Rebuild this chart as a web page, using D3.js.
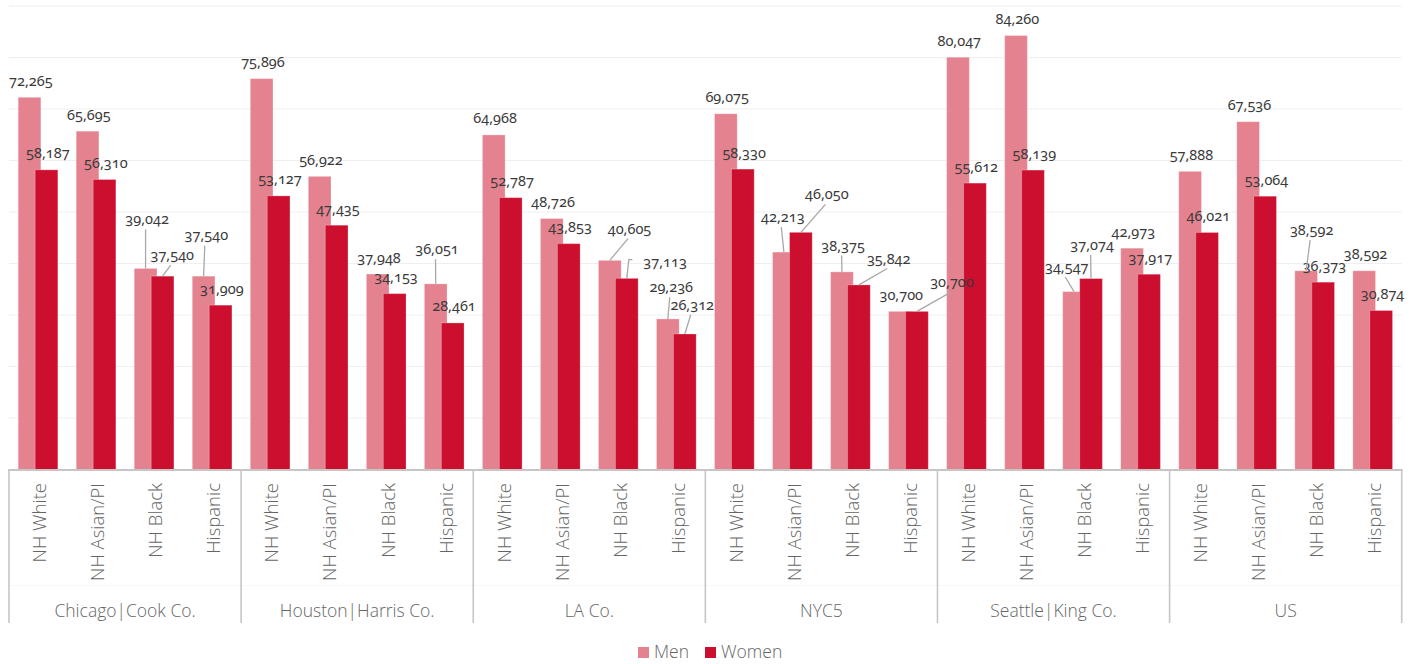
<!DOCTYPE html>
<html>
<head>
<meta charset="utf-8">
<script src="https://cdn.jsdelivr.net/npm/d3@7"></script>
<style>
  body { margin: 0; background: #fff; }
  svg { display: block; }
  .value-label { font-family: "Noto Sans", sans-serif; font-size: 14.5px; fill: #3a3a3a; font-variant-numeric: oldstyle-nums; }
  .cat-label, .group-label, .legend-label { font-family: "Open Sans", sans-serif; font-weight: 300; fill: #666; }
</style>
</head>
<body>
<svg id="chart" width="1419" height="664"></svg>
<script>
const groups = ["Chicago|Cook Co.", "Houston|Harris Co.", "LA Co.", "NYC5", "Seattle|King Co.", "US"];
const categories = ["NH White", "NH Asian/PI", "NH Black", "Hispanic"];
const series = ["Men", "Women"];

const menValues = [
  72265, 65695, 39042, 37540,
  75896, 56922, 37948, 36051,
  64968, 48726, 40605, 29236,
  69075, 42213, 38375, 30700,
  80047, 84260, 34547, 42973,
  57888, 67536, 38592, 38592
];
const womenValues = [
  58187, 56310, 37540, 31909,
  53127, 47435, 34153, 28461,
  52787, 43853, 37113, 26312,
  58330, 46050, 35842, 30700,
  55612, 58139, 37074, 37917,
  46021, 53064, 36373, 30874
];
const yTicks = [0, 10000, 20000, 30000, 40000, 50000, 60000, 70000, 80000, 90000];

const colors = { Men: "#e4838f", Women: "#cc0f2f" };

// labels that were pushed aside to avoid overlaps: [dx, dy from bar top, leader type]
const labelShift = {
  "Men-2": [1.5, -50, "line"],
  "Men-3": [2.7, -41.7, "line"],
  "Men-7": [1.3, -35.7, "line"],
  "Men-10": [19.7, -32.7, "line"],
  "Men-11": [3.4, -32.6, "line"],
  "Men-13": [-1.1, -36, "line"],
  "Men-14": [1.2, -27.3, "line"],
  "Men-18": [-7.3, -25.6, "line"],
  "Men-22": [5.5, -41.7, "line"],
  "Women-2": [9.7, -22, "line"],
  "Women-10": [38.3, -17.3, "elbow"],
  "Women-11": [7.4, -30.3, "line"],
  "Women-13": [26, -39, "line"],
  "Women-14": [29.8, -27.4, "line"],
  "Women-15": [35, -30, "line"],
  "Women-18": [1.1, -34.7, "line"]
};

const svg = d3.select("#chart");
const plotLeft = 9, plotRight = 1401.7, plotTop = 6, baseY = 469.5, axisBottom = 623;

const x0 = d3.scaleBand().domain(groups).range([plotLeft, plotRight]);
const x1 = d3.scaleBand().domain(categories).range([0, x0.bandwidth()]);
const xs = d3.scaleBand().domain(series).range([0, x1.bandwidth()])
  .paddingInner(-0.335).paddingOuter(0.54);
const y = d3.scaleLinear().domain([0, 90000]).range([baseY, plotTop]);

const rows = [];
groups.forEach((g, gi) => {
  categories.forEach((c, ci) => {
    const i = gi * categories.length + ci;
    rows.push({ group: g, cat: c, i: i, Men: menValues[i], Women: womenValues[i] });
  });
});

// grid
svg.append("g")
  .selectAll("line")
  .data(yTicks.slice(1))
  .join("line")
    .attr("x1", plotLeft)
    .attr("x2", plotRight)
    .attr("y1", d => y(d))
    .attr("y2", d => y(d))
    .attr("stroke", "#efefef")
    .attr("stroke-width", 1.2);

// bars
const catX = d => x0(d.group) + x1(d.cat);
const bars = svg.append("g");
series.forEach(s => {
  bars.append("g")
    .selectAll("rect")
    .data(rows)
    .join("rect")
      .attr("x", d => catX(d) + xs(s))
      .attr("y", d => y(d[s]))
      .attr("width", xs.bandwidth())
      .attr("height", d => baseY - y(d[s]))
      .attr("fill", colors[s])
      .attr("stroke", "rgba(255,255,255,0.25)")
      .attr("stroke-width", 1);
});

// value labels + leaders
const labels = svg.append("g");
const leaders = svg.append("g")
  .attr("fill", "none")
  .attr("stroke", "#a8a8a8")
  .attr("stroke-width", 1.3);
series.forEach(s => {
  rows.forEach(d => {
    const bx = catX(d) + xs(s) + xs.bandwidth() / 2;
    const by = y(d[s]);
    const shift = labelShift[s + "-" + d.i] || [1.3, -17.5, null];
    const lx = bx + shift[0], ly = by + shift[1];
    const t = labels.append("text")
      .attr("class", "value-label")
      .attr("x", lx)
      .attr("y", ly)
      .attr("text-anchor", "middle")
      .attr("dominant-baseline", "central")
      .text(d3.format(",")(d[s]));
    if (shift[2] === "line") {
      leaders.append("line")
        .attr("x1", lx - 1.5)
        .attr("y1", ly + 11)
        .attr("x2", bx)
        .attr("y2", by);
    } else if (shift[2] === "elbow") {
      const w = t.node().getComputedTextLength();
      leaders.append("path")
        .attr("d", `M${lx - w / 2 - 11},${ly - 1.5}H${bx + 2}L${bx},${by}`);
    }
  });
});

// axis
const axis = svg.append("g")
  .attr("stroke", "#c6c6c6");
axis.append("line")
  .attr("x1", plotLeft - 1)
  .attr("x2", plotRight + 1)
  .attr("y1", baseY + 0.5)
  .attr("y2", baseY + 0.5)
  .attr("stroke-width", 2);
axis.append("line")
  .attr("x1", plotLeft)
  .attr("x2", plotRight)
  .attr("y1", 585.5)
  .attr("y2", 585.5)
  .attr("stroke", "#f7f7f7")
  .attr("stroke-width", 1);
axis.selectAll(".sep")
  .data(groups.map(g => x0(g)).concat([plotRight]))
  .join("line")
    .attr("class", "sep")
    .attr("x1", d => d)
    .attr("x2", d => d)
    .attr("y1", baseY)
    .attr("y2", axisBottom)
    .attr("stroke-width", 1.6);

svg.append("g")
  .selectAll("text")
  .data(rows)
  .join("text")
    .attr("class", "cat-label")
    .attr("font-size", "18.5px")
    .attr("text-anchor", "end")
    .attr("dy", "0.45em")
    .attr("transform", d => `translate(${catX(d) + x1.bandwidth() / 2},483) rotate(-90)`)
    .text(d => d.cat);

svg.append("g")
  .selectAll("text")
  .data(groups)
  .join("text")
    .attr("class", "group-label")
    .attr("font-size", "17.5px")
    .attr("text-anchor", "middle")
    .attr("x", d => x0(d) + x0.bandwidth() / 2)
    .attr("y", 617)
    .text(d => d);

// legend
const legend = svg.append("g")
  .attr("transform", "translate(638,647)");
const legendItems = legend.selectAll("g")
  .data(series)
  .join("g")
    .attr("transform", (d, i) => `translate(${i * 67},0)`);
legendItems.append("rect")
  .attr("width", 11)
  .attr("height", 11)
  .attr("fill", d => colors[d]);
legendItems.append("text")
  .attr("class", "legend-label")
  .attr("font-size", "17.5px")
  .attr("x", 16)
  .attr("y", 11)
  .text(d => d);
</script>
</body>
</html>
